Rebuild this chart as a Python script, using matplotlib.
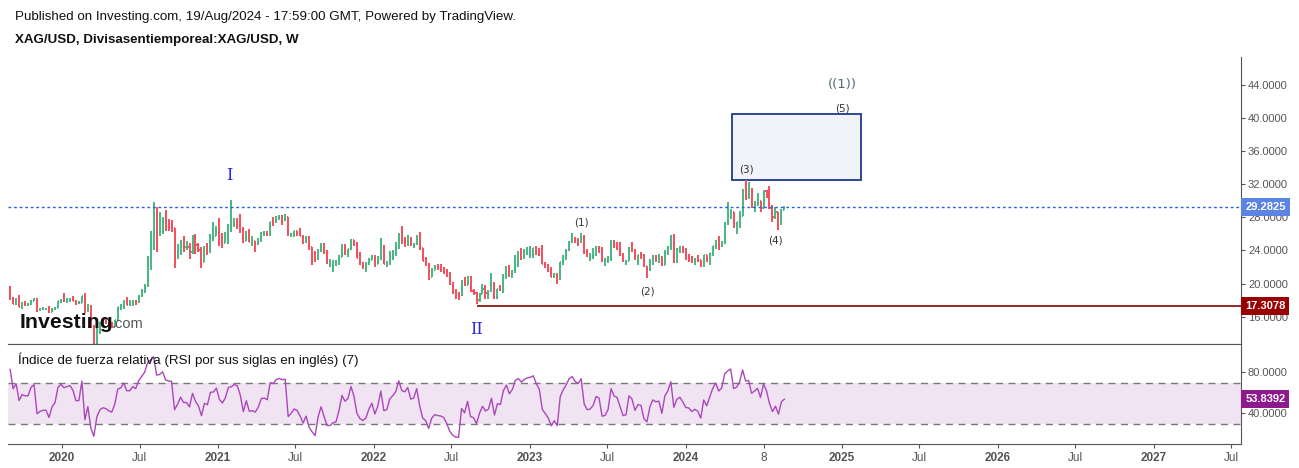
import numpy as np
import pandas as pd
import matplotlib
matplotlib.use('Agg')
import matplotlib.pyplot as plt
import matplotlib.dates as mdates
from matplotlib.patches import Rectangle

plt.rcParams['font.family'] = ['Liberation Sans', 'DejaVu Sans']

# velas semanales XAG/USD (sep 2019 -> 19 ago 2024)
opens = [18.40, 18.15, 17.55, 17.90, 17.20, 17.55, 17.50, 17.50, 17.95, 18.10,
         16.80, 16.90, 16.95, 16.95, 16.60, 16.95, 17.10, 17.85, 18.05, 17.95,
         18.00, 18.05, 17.95, 17.70, 17.70, 18.45, 16.65, 17.35, 14.80, 12.60,
         14.40, 15.20, 15.45, 15.35, 15.10, 14.95, 15.55, 17.15, 17.30, 17.95,
         17.45, 17.45, 17.85, 17.75, 18.55, 19.10, 19.75, 22.75, 24.40, 28.40,
         26.40, 26.65, 27.70, 26.85, 26.75, 26.70, 23.20, 24.00, 25.15, 24.40,
         24.40, 23.85, 25.65, 24.70, 24.10, 22.65, 24.15, 23.95, 25.75, 25.80,
         26.40, 25.30, 24.90, 25.50, 26.90, 27.00, 27.35, 27.25, 26.65, 25.20,
         26.20, 25.05, 25.10, 24.95, 25.30, 25.95, 26.00, 25.90, 27.45, 27.40,
         27.85, 28.00, 27.95, 28.00, 25.85, 26.05, 26.30, 26.20, 25.80, 25.20,
         25.50, 24.40, 23.75, 23.05, 24.05, 24.75, 23.75, 22.45, 22.45, 22.60,
         22.65, 23.25, 24.35, 23.95, 24.15, 25.25, 24.65, 23.10, 22.45, 22.20,
         22.35, 22.90, 23.30, 22.40, 22.95, 24.30, 22.40, 22.50, 23.55, 23.90,
         24.35, 25.90, 25.15, 25.05, 25.55, 24.70, 24.80, 25.75, 24.30, 22.75,
         22.35, 20.85, 21.70, 22.00, 21.90, 21.85, 21.70, 21.10, 19.95, 19.15,
         18.65, 18.60, 20.30, 19.85, 20.80, 19.05, 18.90, 18.00, 18.80, 19.40,
         18.90, 19.05, 19.95, 18.20, 19.30, 19.20, 20.85, 21.70, 20.95, 21.55,
         23.15, 23.50, 23.25, 23.70, 23.95, 24.05, 24.25, 23.90, 23.65, 22.40,
         22.05, 21.65, 20.80, 21.05, 20.50, 22.55, 23.35, 24.05, 25.05, 25.45,
         25.15, 25.05, 25.65, 23.90, 23.30, 23.35, 23.60, 24.30, 24.20, 22.70,
         22.75, 23.10, 24.95, 24.40, 24.30, 23.60, 22.70, 22.75, 24.25, 24.00,
         23.00, 23.45, 23.40, 22.10, 21.70, 22.75, 23.35, 23.20, 23.25, 22.30,
         23.70, 24.25, 25.50, 23.00, 24.00, 24.30, 23.80, 23.20, 23.15, 22.80,
         22.95, 22.80, 22.20, 23.40, 22.95, 23.65, 24.50, 25.20, 24.70, 25.00,
         27.25, 28.00, 28.60, 27.20, 27.40, 28.20, 31.30, 30.30, 30.40, 29.20,
         29.55, 29.95, 29.15, 31.20, 30.55, 29.15, 28.00, 28.60, 27.45, 28.95]
highs = [19.65, 18.40, 18.20, 18.65, 17.80, 17.90, 17.70, 18.00, 18.20, 18.20,
         17.05, 17.15, 17.05, 17.25, 17.10, 17.20, 17.95, 18.10, 18.85, 18.25,
         18.30, 18.45, 18.05, 17.85, 18.50, 18.85, 17.50, 17.45, 14.95, 14.65,
         15.35, 15.65, 15.70, 15.40, 15.35, 15.65, 17.20, 17.55, 18.05, 18.40,
         18.00, 18.05, 18.00, 18.60, 19.35, 19.90, 23.30, 26.30, 29.85, 29.30,
         28.60, 28.10, 28.90, 27.80, 27.70, 26.75, 24.80, 25.25, 25.75, 25.20,
         24.90, 25.90, 26.00, 24.95, 24.45, 24.50, 24.85, 26.00, 27.40, 26.95,
         27.95, 26.10, 26.20, 27.25, 30.10, 27.95, 27.90, 28.35, 26.85, 26.30,
         26.60, 25.75, 25.20, 25.50, 26.20, 26.35, 26.40, 27.50, 28.10, 28.15,
         28.30, 28.30, 28.35, 28.00, 26.15, 26.30, 26.40, 26.75, 25.90, 25.80,
         25.80, 24.45, 23.90, 24.15, 24.85, 24.90, 24.10, 22.95, 22.85, 22.90,
         23.50, 24.80, 24.75, 24.20, 25.40, 25.30, 25.05, 23.85, 22.55, 22.65,
         23.05, 23.40, 23.40, 23.35, 25.45, 24.70, 22.70, 23.90, 24.00, 25.00,
         26.15, 26.95, 25.65, 25.85, 25.60, 24.95, 25.90, 26.20, 24.35, 23.20,
         22.45, 21.90, 22.25, 22.40, 22.40, 21.95, 21.75, 21.35, 20.20, 19.40,
         19.00, 20.40, 20.80, 20.90, 20.95, 19.35, 19.00, 18.90, 20.00, 19.80,
         19.20, 21.25, 20.25, 19.40, 19.80, 21.10, 22.15, 22.25, 21.60, 23.50,
         23.90, 24.25, 24.15, 24.40, 24.55, 24.35, 24.60, 24.25, 24.65, 22.60,
         22.40, 22.00, 21.30, 21.25, 22.60, 23.50, 24.20, 25.15, 26.10, 25.60,
         25.45, 26.15, 25.90, 24.15, 23.70, 24.30, 24.50, 24.55, 24.45, 23.10,
         23.30, 25.25, 25.25, 25.00, 25.00, 23.75, 22.90, 24.40, 25.00, 24.15,
         23.50, 23.80, 23.60, 22.15, 22.95, 23.45, 23.40, 23.60, 23.35, 24.00,
         24.50, 25.90, 25.95, 24.30, 24.60, 24.60, 24.25, 23.60, 23.30, 23.15,
         23.45, 22.90, 23.45, 23.45, 23.70, 24.60, 25.30, 25.75, 25.10, 27.45,
         29.80, 29.00, 28.65, 27.45, 28.75, 31.40, 32.50, 32.30, 31.55, 29.95,
         31.00, 30.00, 31.30, 31.35, 31.75, 29.55, 29.25, 28.65, 29.00, 29.35]
lows = [18.05, 17.50, 17.45, 17.15, 16.90, 17.35, 17.35, 17.45, 17.90, 16.60,
        16.65, 16.85, 16.85, 16.45, 16.55, 16.85, 17.05, 17.70, 17.75, 17.70,
        17.80, 17.85, 17.45, 17.55, 17.60, 16.50, 16.60, 14.60, 11.65, 12.55,
        13.90, 15.00, 15.10, 14.65, 14.65, 14.80, 15.45, 16.85, 16.95, 17.40,
        17.35, 17.25, 17.40, 17.70, 18.35, 18.85, 19.55, 21.70, 24.00, 23.80,
        25.70, 26.05, 26.30, 26.40, 26.20, 21.90, 22.95, 23.40, 23.80, 24.10,
        23.00, 23.55, 23.60, 23.85, 21.90, 22.55, 23.45, 23.75, 25.10, 25.75,
        24.60, 24.30, 24.85, 24.80, 26.25, 26.80, 26.55, 26.10, 24.85, 25.15,
        25.00, 24.50, 23.80, 24.70, 25.05, 25.70, 25.75, 25.80, 26.90, 27.35,
        27.70, 27.10, 27.60, 25.75, 25.60, 25.60, 25.80, 25.75, 24.80, 24.90,
        24.05, 22.30, 22.65, 22.90, 23.80, 23.55, 22.40, 22.05, 21.40, 22.15,
        22.30, 23.20, 23.40, 23.20, 24.10, 24.50, 23.05, 22.20, 21.80, 21.40,
        22.20, 22.80, 21.95, 22.35, 22.90, 22.35, 22.05, 22.30, 22.85, 23.30,
        24.20, 24.80, 24.40, 24.60, 24.55, 24.30, 24.65, 24.10, 22.70, 22.10,
        20.45, 20.80, 21.65, 21.70, 21.35, 21.10, 20.85, 19.80, 18.70, 18.15,
        18.00, 18.50, 19.70, 19.80, 19.00, 18.65, 17.55, 17.75, 18.75, 18.10,
        18.10, 19.00, 18.10, 18.10, 19.10, 18.85, 20.60, 20.75, 20.70, 21.25,
        22.00, 22.90, 22.95, 23.50, 23.05, 23.15, 23.40, 23.30, 22.35, 21.85,
        21.45, 20.75, 20.65, 19.90, 20.45, 22.30, 22.80, 23.90, 24.90, 24.85,
        24.50, 24.85, 23.60, 23.25, 22.70, 23.00, 23.35, 23.65, 22.60, 22.10,
        22.45, 22.75, 24.35, 24.00, 23.35, 22.60, 22.20, 22.70, 23.85, 22.90,
        22.30, 22.95, 22.00, 20.70, 21.55, 22.20, 22.65, 22.50, 22.15, 22.20,
        23.50, 24.10, 22.50, 22.50, 23.70, 23.70, 22.85, 22.65, 22.50, 22.30,
        22.55, 21.95, 21.95, 22.60, 22.30, 23.30, 24.15, 24.10, 24.40, 24.75,
        27.05, 27.80, 26.70, 26.00, 26.70, 28.15, 30.05, 30.20, 29.10, 28.65,
        29.35, 28.60, 29.10, 30.35, 29.00, 27.40, 27.75, 26.45, 27.10, 28.90]
closes = [18.15, 17.55, 17.90, 17.20, 17.55, 17.50, 17.50, 17.95, 18.10, 16.80,
          16.90, 16.95, 16.95, 16.60, 16.95, 17.10, 17.85, 18.05, 17.95, 18.00,
          18.05, 17.95, 17.70, 17.70, 18.45, 16.65, 17.35, 14.80, 12.60, 14.40,
          15.20, 15.45, 15.35, 15.10, 14.95, 15.55, 17.15, 17.30, 17.95, 17.45,
          17.45, 17.85, 17.75, 18.55, 19.10, 19.75, 22.75, 24.40, 28.40, 26.40,
          26.65, 27.70, 26.85, 26.75, 26.70, 23.20, 24.00, 25.15, 24.40, 24.40,
          23.85, 25.65, 24.70, 24.10, 22.65, 24.15, 23.95, 25.75, 25.80, 26.40,
          25.30, 24.90, 25.50, 26.90, 27.00, 27.35, 27.25, 26.65, 25.20, 26.20,
          25.05, 25.10, 24.95, 25.30, 25.95, 26.00, 25.90, 27.45, 27.40, 27.85,
          28.00, 27.95, 28.00, 25.85, 26.05, 26.30, 26.20, 25.80, 25.20, 25.50,
          24.40, 23.75, 23.05, 24.05, 24.75, 23.75, 22.45, 22.45, 22.60, 22.65,
          23.25, 24.35, 23.95, 24.15, 25.25, 24.65, 23.10, 22.45, 22.20, 22.35,
          22.90, 23.30, 22.40, 22.95, 24.30, 22.40, 22.50, 23.55, 23.90, 24.35,
          25.90, 25.15, 25.05, 25.55, 24.70, 24.80, 25.75, 24.30, 22.75, 22.35,
          20.85, 21.70, 22.00, 21.90, 21.85, 21.70, 21.10, 19.95, 19.15, 18.65,
          18.60, 20.30, 19.85, 20.80, 19.05, 18.90, 18.00, 18.80, 19.40, 18.90,
          19.05, 19.95, 18.20, 19.30, 19.20, 20.85, 21.70, 20.95, 21.55, 23.15,
          23.50, 23.25, 23.70, 23.95, 24.05, 24.25, 23.90, 23.65, 22.40, 22.05,
          21.65, 20.80, 21.05, 20.50, 22.55, 23.35, 24.05, 25.05, 25.45, 25.15,
          25.05, 25.65, 23.90, 23.30, 23.35, 23.60, 24.30, 24.20, 22.70, 22.75,
          23.10, 24.95, 24.40, 24.30, 23.60, 22.70, 22.75, 24.25, 24.00, 23.00,
          23.45, 23.40, 22.10, 21.70, 22.75, 23.35, 23.20, 23.25, 22.30, 23.70,
          24.25, 25.50, 23.00, 24.00, 24.30, 23.80, 23.20, 23.15, 22.80, 22.95,
          22.80, 22.20, 23.40, 22.95, 23.65, 24.50, 25.20, 24.70, 25.00, 27.25,
          28.00, 28.60, 27.20, 27.40, 28.20, 31.30, 30.30, 30.40, 29.20, 29.55,
          29.95, 29.15, 31.20, 30.55, 29.15, 28.00, 28.60, 27.45, 28.95, 29.2825]
# cierres semanales anteriores (jul-ago 2019), solo para arrancar el RSI
warmup_closes = [15.25, 15.20, 16.35, 16.35, 16.30, 17.10, 17.15, 17.10, 18.40]

last_price = 29.2825
support = 17.3078
rsi_last = 53.8392

wave_labels = ['(1)', '(2)', '(3)', '(4)', '(5)']
wave_dates = ['2023-05-02', '2023-10-04', '2024-05-23', '2024-07-30', '2025-01-02']
wave_prices = [27.44, 19.10, 33.73, 25.15, 41.10]

xtick_dates = ['2020-01-01', '2020-07-01', '2021-01-01', '2021-07-01', '2022-01-01',
               '2022-07-01', '2023-01-01', '2023-07-01', '2024-01-01', '2024-07-01',
               '2025-01-01', '2025-07-01', '2026-01-01', '2026-07-01', '2027-01-01',
               '2027-07-01']
xtick_labels = ['2020', 'Jul', '2021', 'Jul', '2022', 'Jul', '2023', 'Jul', '2024', '8',
                '2025', 'Jul', '2026', 'Jul', '2027', 'Jul']

dates = pd.date_range(end='2024-08-19', periods=len(closes), freq='W-MON')
x = mdates.date2num(dates)
o = np.array(opens); h = np.array(highs); l = np.array(lows); c = np.array(closes)

# RSI(7) de Wilder sobre los cierres
allc = pd.Series(warmup_closes + closes)
delta = allc.diff()
up = delta.clip(lower=0).ewm(alpha=1/7, adjust=False).mean()
down = (-delta.clip(upper=0)).ewm(alpha=1/7, adjust=False).mean()
rsi = (100 - 100 / (1 + up / down)).values[len(warmup_closes):]

W, H = 1299, 468
fig = plt.figure(figsize=(W/100, H/100), dpi=100)
def box(left, top, right, bottom):
    return [left/W, 1 - bottom/H, (right-left)/W, (bottom-top)/H]

ax = fig.add_axes(box(8, 57, 1241, 344))
ax2 = fig.add_axes(box(8, 344, 1241, 444), sharex=ax)

GREEN = '#45b882'
RED = '#f54d5b'
cols = np.where(c >= o, GREEN, RED)
ax.vlines(x, l, h, colors=cols, lw=1.4)
ax.hlines(o, x - 2.4, x, colors=cols, lw=1.4)
ax.hlines(c, x, x + 2.4, colors=cols, lw=1.4)

ax.axhline(last_price, color='#2f5fe8', lw=1, ls=(0, (2, 2)))
ax.hlines(support, mdates.date2num(pd.Timestamp('2022-08-29')),
          mdates.date2num(pd.Timestamp('2027-08-01')), color='#8b0000', lw=1.2)

x0 = mdates.date2num(pd.Timestamp('2024-04-18'))
x1 = mdates.date2num(pd.Timestamp('2025-02-14'))
ax.add_patch(Rectangle((x0, 32.52), x1 - x0, 40.50 - 32.52, facecolor='#f2f3f8',
                       edgecolor='#1c3a8c', lw=1.3, zorder=1))

for lab, d, p in zip(wave_labels, wave_dates, wave_prices):
    ax.text(mdates.date2num(pd.Timestamp(d)), p, lab, ha='center', va='center',
            fontsize=7.5, color='#333333', family='DejaVu Sans')
ax.text(mdates.date2num(pd.Timestamp('2025-01-02')), 44.0, '((1))', ha='center', va='center',
        fontsize=9.5, color='#4d6b72', family='DejaVu Sans')
ax.text(mdates.date2num(pd.Timestamp('2021-01-28')), 33.1, 'I', ha='center', va='center',
        fontsize=11.5, color='#2323ee', family='DejaVu Serif')
ax.text(mdates.date2num(pd.Timestamp('2022-08-29')), 14.4, 'II', ha='center', va='center',
        fontsize=11.5, color='#2323ee', family='DejaVu Serif')

ax.set_xlim(mdates.date2num(pd.Timestamp('2019-08-28')), mdates.date2num(pd.Timestamp('2027-07-24')))
ax.set_ylim(12.70, 47.38)
ax.yaxis.tick_right()
ax.set_yticks([16, 20, 24, 28, 32, 36, 40, 44])
ax.set_yticklabels(['%.4f' % v for v in [16, 20, 24, 28, 32, 36, 40, 44]])
ax.tick_params(axis='y', colors='#555555', labelsize=8, length=3, pad=2)
ax.tick_params(axis='x', bottom=False, labelbottom=False)
for s in ['left', 'top']:
    ax.spines[s].set_visible(False)
for s in ['right', 'bottom']:
    ax.spines[s].set_color('#555555')

tag = dict(xycoords=('axes fraction', 'data'), textcoords='offset points', ha='left',
           va='center', fontsize=8, color='white', fontweight='bold')
ax.annotate('%.4f' % last_price, xy=(1, last_price), xytext=(3, 0),
            bbox=dict(boxstyle='square,pad=0.35', fc='#5b84e4', ec='none'), **tag)
ax.annotate('%.4f' % support, xy=(1, support), xytext=(3, 0),
            bbox=dict(boxstyle='square,pad=0.35', fc='#990000', ec='none'), **tag)

# panel RSI
ax2.axhspan(30, 70, color='#f1e4f2', lw=0)
ax2.axhline(70, color='#787878', lw=1, ls=(0, (5, 4)))
ax2.axhline(30, color='#787878', lw=1, ls=(0, (5, 4)))
ax2.plot(x, rsi, color='#ab47bc', lw=1)
ax2.set_ylim(10.0, 107.6)
ax2.yaxis.tick_right()
ax2.set_yticks([40, 80])
ax2.set_yticklabels(['40.0000', '80.0000'])
ax2.tick_params(axis='y', colors='#555555', labelsize=8, length=3, pad=2)
ax2.spines['left'].set_visible(False)
for s in ['right', 'bottom', 'top']:
    ax2.spines[s].set_color('#555555')
ax2.annotate('%.4f' % rsi_last, xy=(1, rsi_last), xytext=(3, 0),
             bbox=dict(boxstyle='square,pad=0.35', fc='#8e1a8e', ec='none'), **tag)
ax2.text(0.008, 0.84, 'Índice de fuerza relativa (RSI por sus siglas en inglés) (7)',
         transform=ax2.transAxes, fontsize=9.6, color='#111111', va='center')

ax2.set_xticks(mdates.date2num(pd.to_datetime(xtick_dates)))
ax2.set_xticklabels(xtick_labels)
ax2.tick_params(axis='x', colors='#555555', labelsize=8.5, length=3, pad=3)
for t in ax2.get_xticklabels():
    if t.get_text().isdigit() and len(t.get_text()) == 4:
        t.set_fontweight('bold')

fig.text(15/W, 1 - 17/H, 'Published on Investing.com, 19/Aug/2024 - 17:59:00 GMT, Powered by TradingView.',
         fontsize=9.6, color='#111111', va='center')
fig.text(15/W, 1 - 40/H, 'XAG/USD, Divisasentiemporeal:XAG/USD, W', fontsize=9.6,
         fontweight='bold', color='#111111', va='center')
fig.text(20/W, 1 - 322/H, 'Investing', fontsize=15.3, fontweight='bold', color='#111111', va='center')
fig.text(112/W, 1 - 324/H, '.com', fontsize=10.5, color='#555555', va='center')

fig.savefig('out.png', dpi=100)
